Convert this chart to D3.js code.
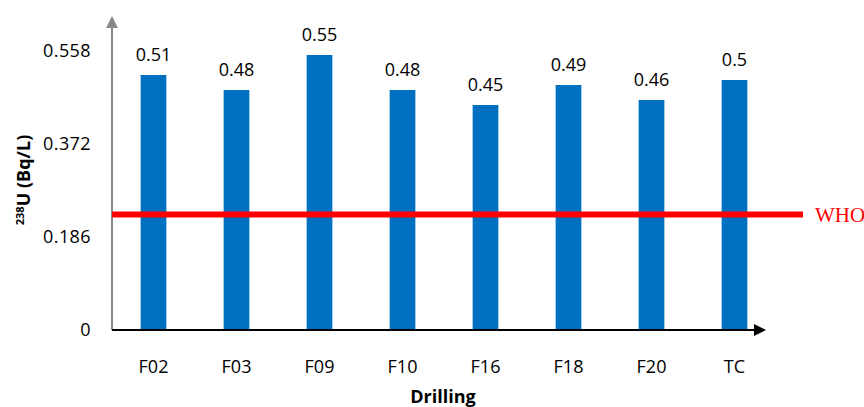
<!DOCTYPE html>
<html><head><meta charset="utf-8">
<script src="https://cdn.jsdelivr.net/npm/d3@7"></script>
<style>body{margin:0;background:#fff}svg{display:block}</style>
</head><body>
<svg id="c" width="864" height="407"></svg>
<script>
const categories = ["F02","F03","F09","F10","F16","F18","F20","TC"];
const values = [0.51,0.48,0.55,0.48,0.45,0.49,0.46,0.5];
const valueLabels = ["0.51","0.48","0.55","0.48","0.45","0.49","0.46","0.5"];
const yTicks = [0, 0.186, 0.372, 0.558];
const whoLimit = 0.231;

const svg = d3.select("#c");
const font = "'Open Sans', sans-serif";
const x0 = 112, y0 = 330;
const x = d3.scaleBand().domain(categories).range([x0, x0 + 8*83]).paddingInner(0.69).paddingOuter(0.345);
const y = d3.scaleLinear().domain([0, 0.558]).range([y0, y0 - 279]);

const defs = svg.append("defs");
defs.append("marker").attr("id","ag").attr("viewBox","0 0 10 10").attr("refX",5).attr("refY",5)
  .attr("markerWidth",6).attr("markerHeight",6).attr("orient","auto")
  .append("path").attr("d","M0,0L10,5L0,10z").attr("fill","#888");
defs.append("marker").attr("id","ab").attr("viewBox","0 0 10 10").attr("refX",5).attr("refY",5)
  .attr("markerWidth",6).attr("markerHeight",6).attr("orient","auto")
  .append("path").attr("d","M0,0L10,5L0,10z").attr("fill","#000");

// bars
svg.selectAll("rect.bar").data(values).join("rect").attr("class","bar")
  .attr("x",(d,i)=>x(categories[i])).attr("width",x.bandwidth())
  .attr("y",d=>y(d)).attr("height",d=>y0-y(d)).attr("fill","#0070C0");

// value labels
svg.selectAll("text.val").data(values).join("text").attr("class","val")
  .attr("x",(d,i)=>x(categories[i])+x.bandwidth()/2).attr("y",d=>y(d)-14)
  .attr("text-anchor","middle").attr("font-family",font).attr("font-size",18).attr("fill","#000")
  .text((d,i)=>valueLabels[i]);

// y axis line (gray with arrow)
svg.append("line").attr("x1",x0).attr("x2",x0).attr("y1",y0).attr("y2",22)
  .attr("stroke","#888").attr("stroke-width",2).attr("marker-end","url(#ag)");

// y tick labels
svg.selectAll("text.yt").data(yTicks).join("text").attr("class","yt")
  .attr("x",91).attr("y",d=>y(d)).attr("dy","0.35em").attr("text-anchor","end")
  .attr("font-family",font).attr("font-size",18).attr("letter-spacing",0.4).attr("fill","#000")
  .text(d=>d===0?"0":d3.format(".3f")(d));

// x axis
svg.append("line").attr("x1",x0).attr("x2",760).attr("y1",y0).attr("y2",y0)
  .attr("stroke","#000").attr("stroke-width",2).attr("marker-end","url(#ab)");

// x labels
svg.selectAll("text.xt").data(categories).join("text").attr("class","xt")
  .attr("x",d=>x(d)+x.bandwidth()/2).attr("y",373).attr("text-anchor","middle")
  .attr("font-family",font).attr("font-size",18).attr("fill","#000").text(d=>d);

// WHO line
svg.append("line").attr("x1",x0).attr("x2",803).attr("y1",y(whoLimit)).attr("y2",y(whoLimit))
  .attr("stroke","#FF0000").attr("stroke-width",6);
svg.append("text").attr("x",815).attr("y",y(whoLimit)).attr("dy","0.35em")
  .attr("font-family","'Liberation Serif', 'Times New Roman', serif").attr("font-size",21)
  .attr("fill","#FF0000").text("WHO");

// axis titles
svg.append("text").attr("x",443).attr("y",403).attr("text-anchor","middle")
  .attr("font-family",font).attr("font-size",18).attr("font-weight","bold").text("Drilling");
const yl = svg.append("text").attr("transform","translate(30,180) rotate(-90)").attr("text-anchor","middle")
  .attr("font-family",font).attr("font-size",18).attr("font-weight","bold");
yl.append("tspan").attr("font-size",11).attr("dy","-6").text("238");
yl.append("tspan").attr("dy","6").text("U (Bq/L)");
</script>
</body></html>
